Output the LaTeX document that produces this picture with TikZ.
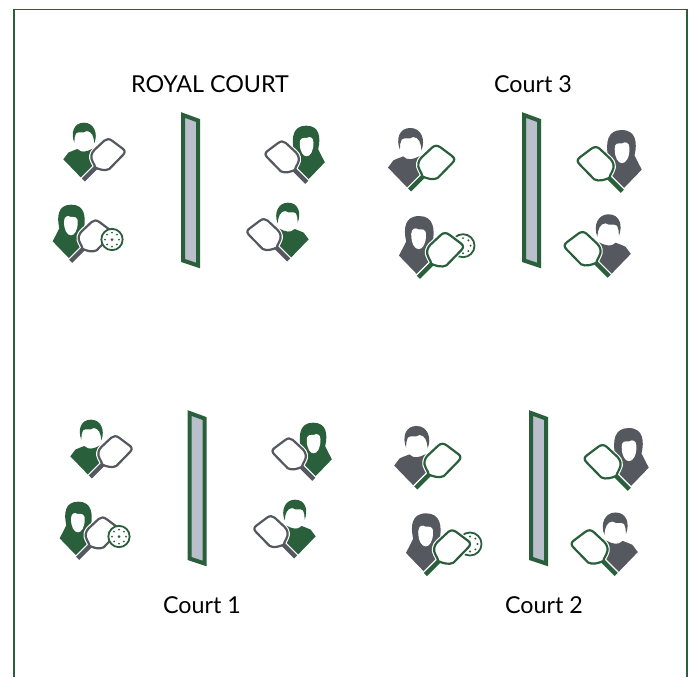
\documentclass[tikz,border=0pt]{standalone}
\usepackage{fontspec}
\setmainfont{Lato}
\definecolor{gr}{HTML}{2A5F3B}
\definecolor{sl}{HTML}{55585F}
\definecolor{nt}{HTML}{B9BFCB}
\newcommand{\padpath}{(166,203) .. controls (178,208) and (195,214) .. (208,207) -- (248,166) .. controls (256,158) and (256,152) .. (248,146) -- (216,122) .. controls (208,116) and (200,116) .. (193,122) -- (163,150) .. controls (155,158) and (150,172) .. (158,185) .. controls (162,192) and (165,198) .. (166,203) -- cycle}
\newcommand{\padl}[1]{%
  \draw[white,line width=6.5pt] (172,197)--(128,241);
  \draw[white,line width=4.5pt,fill=white,line join=round] \padpath;
  \draw[#1,line width=2.2pt,line join=round] \padpath;
  \draw[#1,line width=4.4pt] (168,202)--(130,240);
}
\tikzset{
 x=1pt,y=-1pt,
 pics/manfig/.style n args={2}{code={
  \begin{scope}[scale=0.3333]
  \fill[#1] (103,128) .. controls (92,100) and (100,68) .. (132,68) .. controls (162,68) and (175,100) .. (163,130) .. controls (162,110) and (155,93) .. (140,93) .. controls (128,102) and (118,92) .. (108,100) .. controls (103,108) and (104,116) .. (103,128) -- cycle;
  \fill[#1] (70,178) -- (85,158) .. controls (95,153) and (105,150) .. (112,147) .. controls (125,160) and (140,155) .. (158,146) -- (175,150) -- (180,205) -- (128,238) -- cycle;
  \padl{#2}
  \end{scope}}},
 pics/womanfig/.style n args={2}{code={
  \begin{scope}[scale=0.3333]
  \fill[#1] (58,385) .. controls (50,350) and (53,314) .. (94,314) .. controls (134,314) and (138,350) .. (132,385) -- (150,400) -- (130,445) -- (92,480) -- (38,424) -- cycle;
  \fill[white] (72,365) .. controls (72,348) and (84,345) .. (92,351) .. controls (102,351) and (114,348) .. (113,368) .. controls (113,392) and (103,406) .. (93,406) .. controls (81,406) and (72,390) .. (72,365) -- cycle;
  \begin{scope}[shift={(-38,244)}]
  \padl{#2}
  \end{scope}
  \end{scope}}},
 pics/ballfig/.style={code={
  \begin{scope}[scale=0.3333]
  \draw[gr,line width=1.8pt,fill=white] (0,0) circle (32);
  \fill[gr] (0,0) circle (4.5);
  \foreach \a in {0,45,...,315}{\fill[gr] (\a:21) circle (3);}
  \end{scope}}},
 pics/netfig/.style={code={
  \draw[gr,line width=4pt,fill=nt,miter limit=10] (183,115)--(198,120.5)--(198,265.5)--(183,260.5)--cycle;
 }},
 lab/.style={font=\fontsize{23.3}{26}\selectfont,text=black,inner sep=0pt},
 big/.style={scale=1.08}
}
\begin{document}
\begin{tikzpicture}
\useasboundingbox (0,0) rectangle (693,677);
\draw[gr,line width=1.8pt] (14,677)--(14,9.5)--(687,9.5)--(687,677);
\node[lab] (t0) at (210,84) {ROYAL COURT};
\node[lab] (t3) at (533,84) {Court 3};
\node[lab] (t1) at (202,605) {Court 1};
\node[lab] (t2) at (544,605) {Court 2};
% Royal
\pic at (0,0) {netfig};
\pic at (40,100) {manfig={gr}{sl}};
\pic at (40,100) {womanfig={gr}{sl}};
\pic at (112,239.5) {ballfig};
\pic[xscale=-1] at (337.5,21) {womanfig={gr}{sl}};
\pic[xscale=-1] at (332,180) {manfig={gr}{sl}};
% Court 1
\pic at (6.5,298) {netfig};
\pic at (47,397) {manfig={gr}{sl}};
\pic at (47,397) {womanfig={gr}{sl}};
\pic at (119,536.5) {ballfig};
\pic[xscale=-1] at (344.5,318) {womanfig={gr}{sl}};
\pic[xscale=-1] at (339,477) {manfig={gr}{sl}};
% Court 3
\pic at (341,0) {netfig};
\pic[big] at (362.8,103.5) {manfig={sl}{gr}};
\pic[big] at (463,245.7) {ballfig};
\pic[big] at (385.3,103) {womanfig={sl}{gr}};
\pic[xscale=-1,big] at (655.4,17) {womanfig={sl}{gr}};
\pic[xscale=-1,big] at (656,189.8) {manfig={sl}{gr}};
% Court 2
\pic at (348,298) {netfig};
\pic[big] at (369,401.5) {manfig={sl}{gr}};
\pic[big] at (470,544) {ballfig};
\pic[big] at (392.3,400.3) {womanfig={sl}{gr}};
\pic[xscale=-1,big] at (662.4,315) {womanfig={sl}{gr}};
\pic[xscale=-1,big] at (663,488) {manfig={sl}{gr}};
\end{tikzpicture}
\end{document}
